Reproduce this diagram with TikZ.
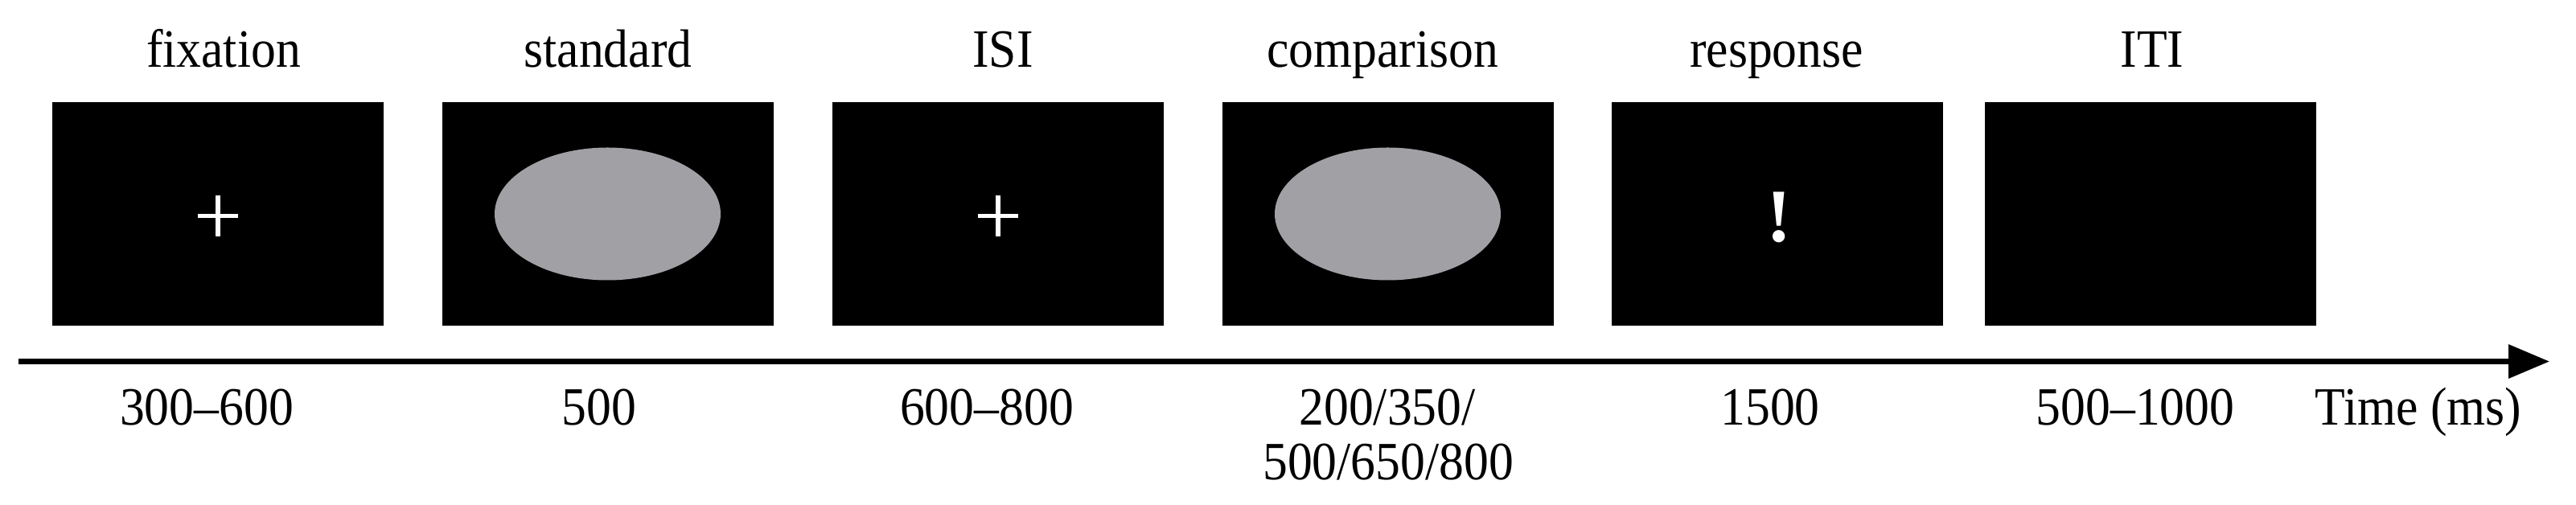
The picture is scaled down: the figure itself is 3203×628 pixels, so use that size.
\documentclass[tikz,border=0pt]{standalone}
\usepackage{fontspec}
\usepackage{graphicx}
\setmainfont{Liberation Serif}
\usetikzlibrary{arrows.meta,shapes.geometric}
\definecolor{stimgray}{RGB}{161,160,165}
\newcommand{\nx}[1]{\scalebox{0.92}[1]{#1}}
\begin{document}
\begin{tikzpicture}[x=0.25pt,y=-0.25pt,
  screen/.style={rectangle,fill=black,draw=none,inner sep=0pt,minimum width=103pt,minimum height=69.375pt},
  disc/.style={ellipse,fill=stimgray,draw=none,inner sep=0pt,minimum width=70.25pt,minimum height=41.25pt},
  lab/.style={font=\fontsize{16.75pt}{17pt}\selectfont,inner sep=0pt,anchor=base},
  crossline/.style={draw=white,line width=1.425pt},
  timeline/.style={line width=1.675pt,-{Triangle[length=12.75pt,width=10.25pt]}}]
\useasboundingbox (0,0) rectangle (3203,628);
% screens
\node[screen] (b1) at (271,266) {};
\node[screen] (b2) at (755.5,266) {};
\node[screen] (b3) at (1240.5,266) {};
\node[screen] (b4) at (1725.5,266) {};
\node[screen] (b5) at (2210,266) {};
\node[screen] (b6) at (2674,266) {};
% stimuli
\draw[crossline] (245.7,268.5) -- (296.3,268.5);
\draw[crossline] (271,243) -- (271,293.7);
\node[disc] (e2) at (b2) {};
\draw[crossline] (1215.7,268.5) -- (1266.3,268.5);
\draw[crossline] (1241,243) -- (1241,293.7);
\node[disc] (e4) at (b4) {};
\node[font=\fontsize{23.5pt}{24pt}\selectfont\bfseries,text=white,inner sep=0pt,anchor=base] (ex) at (2212,301) {!};
% top labels
\node[lab] (t1) at (278,84) {\nx{fixation}};
\node[lab] (t2) at (756,84) {\nx{standard}};
\node[lab] (t3) at (1247,84) {\nx{ISI}};
\node[lab] (t4) at (1719,84) {\nx{comparison}};
\node[lab] (t5) at (2209,84) {\nx{response}};
\node[lab] (t6) at (2676,84) {\nx{ITI}};
% time axis
\coordinate (tstart) at (23,449.5);
\coordinate (tend) at (3170,449.5);
\draw[timeline] (tstart) -- (tend);
% durations
\node[lab] (d1) at (257,529) {\nx{300–600}};
\node[lab] (d2) at (745,529) {\nx{500}};
\node[lab] (d3) at (1227,529) {\nx{600–800}};
\node[lab] (d4a) at (1725,529) {\nx{200/350/}};
\node[lab] (d4b) at (1726,597) {\nx{500/650/800}};
\node[lab] (d5) at (2201,529) {\nx{1500}};
\node[lab] (d6) at (2655,529) {\nx{500–1000}};
\node[lab,anchor=base west] (tl) at (2878,529) {\nx{Time (ms)}};
\end{tikzpicture}
\end{document}
